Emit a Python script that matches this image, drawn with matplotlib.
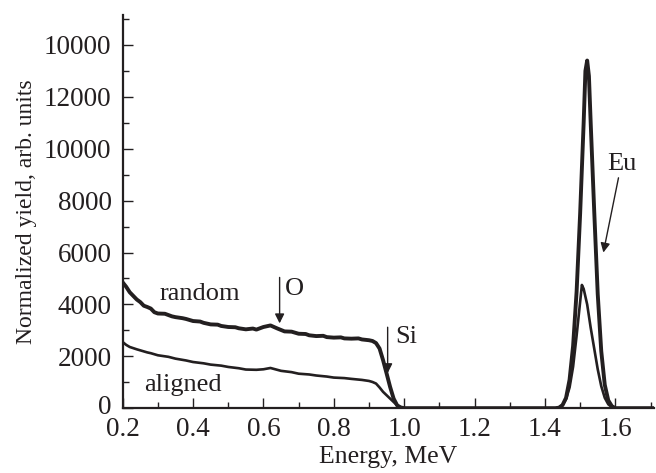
import matplotlib
matplotlib.use("Agg")
import matplotlib.pyplot as plt
import matplotlib.transforms as mtransforms
from matplotlib.ticker import MultipleLocator, FixedLocator

INK = "#231f20"

# random spectrum: energy (MeV) and yield
random_e = [0.20, 0.21, 0.22, 0.23, 0.24, 0.25, 0.26, 0.27, 0.28, 0.29, 0.30, 0.32,
            0.34, 0.35, 0.37, 0.38, 0.40, 0.42, 0.43, 0.45, 0.47, 0.48, 0.50, 0.52,
            0.53, 0.55, 0.57, 0.58, 0.60, 0.62, 0.64, 0.66, 0.68, 0.70, 0.72, 0.73,
            0.75, 0.77, 0.78, 0.80, 0.82, 0.83, 0.85, 0.87, 0.88, 0.90, 0.91, 0.92,
            0.93, 0.94, 0.95, 0.96, 0.97, 0.98, 0.99, 1.00, 1.20, 1.43, 1.44, 1.45,
            1.46, 1.47, 1.48, 1.49, 1.50, 1.51, 1.515, 1.52, 1.525, 1.53, 1.54, 1.55,
            1.56, 1.57, 1.58, 1.59, 1.60, 1.71]
random_y = [4850, 4680, 4470, 4330, 4190, 4090, 3950, 3900, 3840, 3700, 3650, 3640,
            3540, 3510, 3470, 3440, 3360, 3340, 3290, 3230, 3220, 3170, 3130, 3120,
            3080, 3040, 3070, 3030, 3130, 3190, 3070, 2960, 2950, 2870, 2860, 2810,
            2780, 2790, 2740, 2720, 2730, 2690, 2680, 2690, 2650, 2620, 2590, 2510,
            2300, 1850, 1340, 820, 370, 110, 30, 0, 0, 0, 20, 120,
            400, 1100, 2400, 4500, 7500, 11000, 13000, 13400, 12800, 11000, 7600, 4400,
            2200, 900, 300, 80, 0, 0]

# aligned spectrum
aligned_e = [0.20, 0.21, 0.22, 0.24, 0.25, 0.27, 0.28, 0.30, 0.33, 0.35, 0.38, 0.40,
             0.43, 0.45, 0.48, 0.50, 0.53, 0.55, 0.58, 0.60, 0.62, 0.65, 0.68, 0.70,
             0.73, 0.75, 0.78, 0.80, 0.83, 0.85, 0.88, 0.90, 0.91, 0.92, 0.93, 0.94,
             0.95, 0.96, 0.97, 0.98, 0.99, 1.00, 1.20, 1.43, 1.44, 1.45, 1.46, 1.47,
             1.48, 1.49, 1.50, 1.505, 1.51, 1.52, 1.53, 1.54, 1.55, 1.56, 1.57, 1.58,
             1.59, 1.60, 1.71]
aligned_y = [2550, 2440, 2360, 2270, 2230, 2150, 2120, 2040, 1980, 1910, 1840, 1780,
             1730, 1680, 1640, 1590, 1540, 1490, 1480, 1500, 1550, 1440, 1390, 1330,
             1300, 1260, 1220, 1180, 1160, 1130, 1090, 1050, 1010, 950, 800, 630,
             500, 370, 240, 110, 20, 0, 0, 0, 30, 120, 350, 800,
             1600, 2800, 4100, 4750, 4600, 4000, 3100, 2300, 1500, 850, 400, 150,
             40, 0, 0]

y_ticks = [0, 2000, 4000, 6000, 8000, 10000, 12000, 14000]
y_tick_labels = ["0", "2000", "4000", "6000", "8000", "10000", "12000", "10000"]
x_ticks = [0.2, 0.4, 0.6, 0.8, 1.0, 1.2, 1.4, 1.6]
x_tick_labels = ["0.2", "0.4", "0.6", "0.8", "1.0", "1.2", "1.4", "1.6"]

plt.rcParams.update({
    "font.family": "Liberation Serif",
    "font.size": 19,
    "text.color": INK,
    "axes.labelcolor": INK,
    "xtick.color": INK,
    "ytick.color": INK,
})

fig = plt.figure(figsize=(6.56, 4.73), dpi=100)
ax = fig.add_axes([0.187, 0.137, 0.81, 0.831])

ax.plot(random_e, random_y, color=INK, lw=2.8, solid_joinstyle="round")
ax.plot(aligned_e, aligned_y, color=INK, lw=1.9, solid_joinstyle="round")

ax.set_xlim(0.2, 1.71)
ax.set_ylim(0, 15150)
ax.xaxis.set_major_locator(FixedLocator(x_ticks))
ax.set_xticklabels(x_tick_labels, fontsize=19.5)
ax.xaxis.set_minor_locator(MultipleLocator(0.1))
ax.yaxis.set_major_locator(FixedLocator(y_ticks))
ax.set_yticklabels(y_tick_labels, fontsize=19.5)
ax.yaxis.set_minor_locator(MultipleLocator(1000))
ax.tick_params(which="both", direction="in", width=1.0)
ax.tick_params(which="major", length=7)
ax.tick_params(which="minor", length=4.5)
ax.tick_params(axis="y", which="both", pad=8)
ax.tick_params(axis="x", which="both", pad=6)

# nudge the "0" label up a little so it clears "0.2"
zero_lbl = ax.yaxis.get_major_ticks()[0].label1
zero_lbl.set_transform(zero_lbl.get_transform()
                       + mtransforms.ScaledTranslation(0, 3 / 72, fig.dpi_scale_trans))

for side in ["top", "right"]:
    ax.spines[side].set_visible(False)
for side in ["left", "bottom"]:
    ax.spines[side].set_color(INK)
    ax.spines[side].set_linewidth(1.6)

ax.set_xlabel("Energy, MeV", fontsize=18.5, labelpad=3)
ax.set_ylabel("Normalized yield, arb. units", fontsize=17, labelpad=5)

ax.text(0.42, 4420, "random", ha="center", va="center")
ax.text(0.372, 880, "aligned", ha="center", va="center")

arrow = dict(arrowstyle="-|>", color=INK, lw=1.0, mutation_scale=14, shrinkA=0, shrinkB=0)
ax.annotate("", xy=(0.646, 3270), xytext=(0.646, 5040), arrowprops=arrow)
ax.text(0.66, 4600, "O", ha="left", va="center")
ax.annotate("", xy=(0.953, 1350), xytext=(0.953, 3120), arrowprops=arrow)
ax.text(0.975, 2750, "Si", ha="left", va="center")
ax.annotate("", xy=(1.566, 6000), xytext=(1.609, 8880), arrowprops=arrow)
ax.text(1.578, 9400, "Eu", ha="left", va="center")

fig.savefig("out.png", dpi=100)
